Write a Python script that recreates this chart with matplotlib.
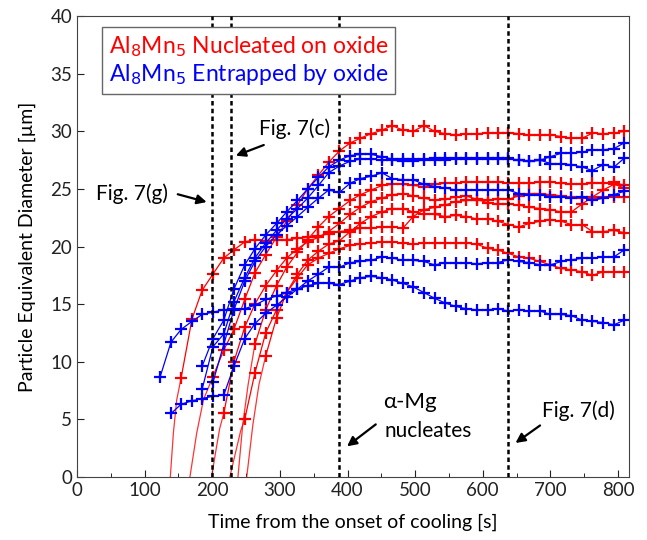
import matplotlib
matplotlib.use("Agg")
import matplotlib.pyplot as plt
from matplotlib.lines import Line2D

# frame times [s] shared by every series (all series run to the last frame)
T = [123, 139, 154, 170, 185, 201, 217, 232, 248, 263, 279, 295, 310, 326, 341,
     357, 372, 388, 404, 419, 435, 451, 466, 482, 497, 513, 529, 544, 560, 575,
     591, 607, 622, 638, 653, 669, 685, 700, 716, 731, 747, 762, 778, 794, 809]

# Al8Mn5 nucleated on oxide (red) -- diameters [um]
red_a = [8.6, 13.7, 16.2, 17.6, 19.0, 19.7, 20.4, 20.6, 20.5, 20.6, 20.6, 20.7, 20.8, 20.9,
         21.1, 21.3, 21.4, 21.6, 21.6, 21.7, 21.7, 21.6, 22.6, 23.2, 23.4, 23.6, 23.9, 24.0,
         24.0, 24.0, 24.1, 24.1, 24.4, 24.6, 24.6, 24.5, 24.4, 24.3, 24.2, 24.2, 24.3, 24.3, 24.3]
red_b = [8.7, 11.0, 12.8, 15.4, 17.7, 19.3, 20.8, 22.2, 23.6, 25.0, 26.2, 27.3, 28.3, 29.0,
         29.4, 29.8, 30.1, 30.5, 30.1, 30.0, 30.5, 30.0, 29.8, 29.7, 29.8, 29.8, 29.85, 29.85,
         29.9, 29.8, 29.7, 29.7, 29.7, 29.55, 29.4, 29.4, 29.85, 29.8, 29.85, 30.0]
red_c = [5.5, 10.0, 13.0, 15.0, 16.6, 17.9, 19.0, 19.8, 20.4, 20.8, 21.3, 22.0, 22.8, 23.4,
         23.9, 24.2, 24.5, 24.6, 24.4, 24.2, 24.0, 24.1, 24.3, 24.4, 24.1, 23.8, 23.7, 23.7,
         23.6, 23.4, 23.3, 23.2, 23.0, 23.0, 23.7, 24.3, 24.9, 25.4, 25.1]
red_d = [5.0, 9.0, 12.5, 14.5, 16.0, 17.3, 18.4, 19.0, 19.4, 19.8, 20.1, 20.2, 20.3, 20.4,
         20.4, 20.3, 20.2, 20.3, 20.3, 20.3, 20.3, 20.3, 20.2, 19.85, 19.7, 19.4, 19.1, 18.97,
         18.7, 18.4, 18.1, 17.97, 17.8, 17.5, 17.8, 17.8, 17.8]
red_e = [11.5, 14.5, 16.6, 18.2, 19.5, 20.6, 21.7, 22.6, 23.3, 24.0, 24.5, 24.9, 25.3, 25.4,
         25.4, 25.3, 25.2, 25.4, 25.5, 25.5, 25.6, 25.6, 25.6, 25.6, 25.5, 25.5, 25.5, 25.6,
         25.6, 25.5, 25.4, 25.4, 25.5, 25.5, 25.6, 25.3]
red_f = [10.5, 13.8, 16.0, 17.6, 18.8, 19.6, 20.2, 20.5, 21.3, 22.0, 22.6, 23.0, 23.3, 23.3,
         23.0, 22.8, 22.8, 22.6, 22.7, 22.6, 22.4, 22.4, 22.2, 21.9, 21.7, 22.0, 22.2, 22.3,
         22.2, 21.9, 21.9, 21.3, 21.3, 21.4, 21.2]
red_series = [red_a, red_b, red_c, red_d, red_e, red_f]

# growth from zero before the first measured frame of each red particle
red_lead_x = [[138, 142.5, 147.5], [167, 177, 187], [199, 206, 211],
              [226, 236, 242], [238, 245, 253], [251, 260, 269]]
red_lead_y = [[0, 3.8, 6.7], [0, 3.8, 6.7], [0, 2.5, 4.2],
              [0, 2.5, 4.0], [0, 4.5, 8.0], [0, 4.5, 8.0]]

# Al8Mn5 entrapped by oxide (blue)
blue_a = [8.7, 11.7, 12.8, 13.5, 14.1, 14.3, 14.5, 14.6, 14.6, 14.9, 15.4, 15.7, 16.0, 16.3,
          16.6, 16.8, 16.8, 16.7, 17.0, 17.3, 17.4, 17.3, 17.1, 16.8, 16.5, 16.0, 15.5, 15.1,
          14.8, 14.6, 14.5, 14.5, 14.6, 14.4, 14.5, 14.4, 14.4, 14.1, 14.1, 14.0, 13.6, 13.5,
          13.4, 13.2, 13.6]
blue_b = [5.5, 6.3, 6.6, 6.8, 7.0, 7.1, 9.6, 12.0, 13.3, 14.2, 14.9, 15.6, 16.3, 17.0,
          17.6, 18.2, 18.2, 18.6, 18.7, 18.8, 19.1, 19.0, 18.8, 18.8, 18.7, 18.4, 18.6, 18.6,
          18.6, 18.5, 18.6, 18.6, 18.85, 18.7, 18.6, 18.4, 18.4, 18.7, 18.85, 18.97, 18.97,
          19.1, 19.1, 19.7]
blue_c = [9.6, 12.0, 13.6, 16.3, 18.4, 19.8, 21.0, 22.0, 23.0, 24.0, 25.0, 26.0, 26.9, 27.5,
          27.9, 28.0, 28.0, 27.8, 27.6, 27.6, 27.6, 27.6, 27.7, 27.7, 27.7, 27.7, 27.7, 27.66,
          27.66, 27.66, 27.5, 27.4, 27.5, 27.8, 28.1, 28.1, 28.2, 28.4, 28.4, 28.5, 29.0]
blue_d = [7.6, 11.3, 12.4, 15.2, 17.3, 19.0, 20.3, 21.4, 22.4, 23.3, 24.2, 25.3, 26.4, 27.0,
          27.4, 27.6, 27.6, 27.5, 27.5, 27.4, 27.4, 27.5, 27.5, 27.5, 27.6, 27.6, 27.6, 27.6,
          27.6, 27.6, 27.5, 27.4, 27.5, 27.2, 27.2, 27.1, 26.9, 26.6, 27.1, 26.9, 27.66]
blue_e = [8.2, 11.5, 14.5, 17.0, 18.7, 20.0, 21.0, 21.8, 22.6, 23.4, 24.2, 24.9, 24.7, 25.5,
          25.9, 26.1, 26.4, 25.9, 25.8, 25.8, 25.4, 25.2, 25.1, 24.9, 24.9, 24.9, 24.9, 24.9,
          24.9, 24.6, 24.5, 24.5, 24.3, 24.3, 24.2, 24.3, 24.0, 24.2, 24.5, 24.8]
blue_series = [blue_a, blue_b, blue_c, blue_d, blue_e]

# event times marked with dashed lines
event_t = [200, 227, 388, 637]

RED = "#ff0000"
BLUE = "#0000ff"

plt.rcParams["font.family"] = ["Lato", "DejaVu Sans"]
fig = plt.figure(figsize=(6.47, 5.40), dpi=100)
ax = fig.add_axes([0.119, 0.117, 0.853, 0.853])

mk = dict(marker="+", markersize=9, markeredgewidth=1.6, lw=0.9)

for ys, lx, ly in zip(red_series, red_lead_x, red_lead_y):
    xs = T[len(T) - len(ys):]
    ax.plot(lx + xs[:1], ly + ys[:1], color=RED, lw=0.9, alpha=0.8)
    ax.plot(xs, ys, color=RED, **mk)

for ys in blue_series:
    xs = T[len(T) - len(ys):]
    ax.plot(xs, ys, color=BLUE, **mk)

for t in event_t:
    ax.axvline(t, color="black", lw=1.8, ls=(0, (1.8, 1.3)), zorder=5)

ax.set_xlim(0, 816)
ax.set_ylim(0, 40)
ax.set_xticks(range(0, 801, 100))
ax.set_xticks(range(50, 801, 100), minor=True)
ax.set_yticks(range(0, 41, 5))
ax.tick_params(direction="in", length=5, labelsize=13.5, colors="#222222")
ax.tick_params(which="minor", direction="in", length=3)
for s in ax.spines.values():
    s.set_color("#444444")
ax.set_xlabel("Time from the onset of cooling [s]", fontsize=14, labelpad=11)
ax.set_ylabel("Particle Equivalent Diameter [µm]", fontsize=14, labelpad=10)

arr = dict(arrowstyle="-|>", color="black", lw=1.6, mutation_scale=14)
ax.annotate("", xy=(195.7, 23.8), xytext=(145, 24.6), arrowprops=arr)
ax.text(82, 24.6, "Fig. 7(g)", fontsize=15, ha="center", va="center")
ax.annotate("", xy=(231, 27.8), xytext=(280, 28.9), arrowprops=arr)
ax.text(322, 30.2, "Fig. 7(c)", fontsize=15, ha="center", va="center")
ax.annotate("", xy=(396, 2.5), xytext=(445, 4.7), arrowprops=arr)
ax.text(453, 6.5, "α-Mg", fontsize=16, ha="left", va="center")
ax.text(455, 4.0, "nucleates", fontsize=15, ha="left", va="center")
ax.annotate("", xy=(645, 2.8), xytext=(688, 4.6), arrowprops=arr)
ax.text(742, 5.7, "Fig. 7(d)", fontsize=15, ha="center", va="center")

handles = [Line2D([], [], color=RED, lw=0), Line2D([], [], color=BLUE, lw=0)]
leg = ax.legend(handles, ["Al$_8$Mn$_5$ Nucleated on oxide", "Al$_8$Mn$_5$ Entrapped by oxide"],
                loc="upper left", bbox_to_anchor=(0.045, 0.976), borderaxespad=0,
                handlelength=0, handletextpad=0, fontsize=16.5, labelcolor="linecolor",
                fancybox=False, framealpha=1, edgecolor="#666666", borderpad=0.3,
                labelspacing=0.15)
leg.get_frame().set_linewidth(1.0)

fig.savefig("out.png", dpi=100)
